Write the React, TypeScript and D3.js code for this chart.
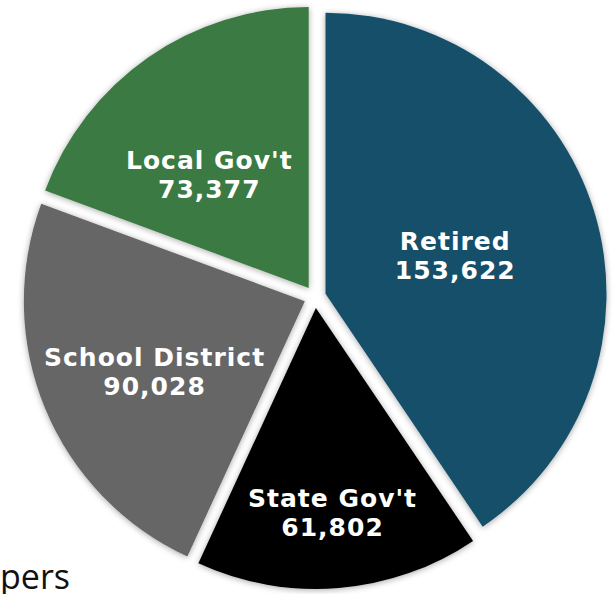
import React, { useEffect, useRef } from 'react';
import * as d3 from 'd3';

const categories = ['Retired', "State Gov't", 'School District', "Local Gov't"];
const values = [153622, 61802, 90028, 73377];
const colors = ['#164f6b', '#000000', '#666666', '#3a7a42'];
// label placement: distance from pie centre (share of radius), angle nudge in degrees
const labelRadius = [0.52, 0.77, 0.63, 0.575];
const labelTurn = [0.7, 0, -2.5, -6];

const App: React.FC = () => {
  const ref = useRef<SVGSVGElement | null>(null);

  useEffect(() => {
    document.body.style.margin = '0';
    const width = 615;
    const height = 594;
    const cx = 315;
    const cy = 297;
    const radius = 281;
    const explode = 11;

    const svg = d3.select(ref.current)
      .attr('width', width)
      .attr('height', height);
    svg.selectAll('*').remove();

    const defs = svg.append('defs');
    const filter = defs.append('filter')
      .attr('id', 'shadow')
      .attr('x', '-10%').attr('y', '-10%')
      .attr('width', '120%').attr('height', '120%');
    filter.append('feDropShadow')
      .attr('dx', 0).attr('dy', 1)
      .attr('stdDeviation', 3)
      .attr('flood-color', '#000')
      .attr('flood-opacity', 0.35);

    const data = categories.map((c, i) => ({
      name: c, value: values[i], color: colors[i], lr: labelRadius[i], lt: labelTurn[i]
    }));

    const pie = d3.pie<any>().sort(null).value((d: any) => d.value);
    const arcs = pie(data);
    const arc = d3.arc<any>().innerRadius(0).outerRadius(radius);

    const g = svg.append('g').attr('transform', `translate(${cx},${cy})`);

    const slices = g.selectAll('.slice')
      .data(arcs)
      .enter()
      .append('g')
      .attr('class', 'slice')
      .attr('transform', (d: any) => {
        const a = (d.startAngle + d.endAngle) / 2;
        return `translate(${Math.sin(a) * explode},${-Math.cos(a) * explode})`;
      });

    slices.append('path')
      .attr('d', arc as any)
      .attr('fill', (d: any) => d.data.color)
      .attr('filter', 'url(#shadow)');

    // labels are placed from the pie centre, so undo the slice offset
    const labels = g.selectAll('.label')
      .data(arcs)
      .enter()
      .append('text')
      .attr('class', 'label')
      .attr('transform', (d: any) => {
        const a = (d.startAngle + d.endAngle) / 2 + (d.data.lt * Math.PI) / 180;
        const r = radius * d.data.lr;
        return `translate(${Math.sin(a) * r},${-Math.cos(a) * r - 2})`;
      })
      .attr('text-anchor', 'middle')
      .attr('fill', '#fff')
      .attr('font-family', '"DejaVu Sans", sans-serif')
      .attr('font-weight', 'bold')
      .attr('font-size', 25)
      .attr('letter-spacing', 1);

    labels.append('tspan')
      .attr('x', 0)
      .attr('dy', '-0.15em')
      .text((d: any) => d.data.name);
    labels.append('tspan')
      .attr('x', 0)
      .attr('dy', '1.16em')
      .text((d: any) => d3.format(',')(d.data.value));

    svg.append('text')
      .attr('x', 0)
      .attr('y', 589)
      .attr('font-family', '"Open Sans", sans-serif')
      .attr('font-size', 34)
      .attr('fill', '#111')
      .text('pers');
  }, []);

  return <svg ref={ref} style={{ display: 'block' }}></svg>;
};

export default App;
